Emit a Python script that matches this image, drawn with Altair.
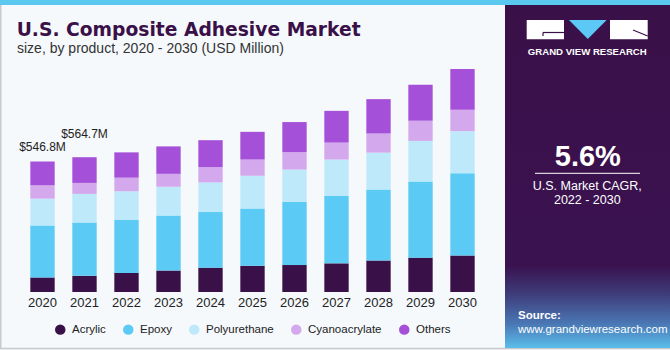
import altair as alt
import pandas as pd

years = [2020, 2021, 2022, 2023, 2024, 2025, 2026, 2027, 2028, 2029, 2030]
products = ["Acrylic", "Epoxy", "Polyurethane", "Cyanoacrylate", "Others"]
acrylic = [61, 68, 80, 90, 102, 110, 113, 120, 132, 144, 153]
epoxy = [218, 223, 222, 230, 233, 240, 265, 282, 297, 319, 345]
polyurethane = [112, 120, 120, 121, 124, 137, 135, 153, 155, 170, 176]
cyanoacrylate = [56, 46, 57, 54, 64, 68, 73, 71, 80, 84, 90]
others = [99.8, 107.7, 106, 115, 113, 116, 126, 133, 144, 151, 170]
colors = ["#3A1048", "#5BCBF5", "#BDE9FA", "#D4A8EC", "#A550D8"]
label_years = [2020, 2021]
label_texts = ["$546.8M", "$564.7M"]

series = [acrylic, epoxy, polyurethane, cyanoacrylate, others]
rows = []
for pi, (name, vals) in enumerate(zip(products, series)):
    for y, v in zip(years, vals):
        rows.append({"year": y, "product": name, "value": v, "ord": pi})
df = pd.DataFrame(rows)
totals = {y: sum(s[i] for s in series) for i, y in enumerate(years)}
lab = pd.DataFrame({"year": label_years, "text": label_texts,
                    "total": [totals[y] for y in label_years]})

L, T = 21.5, 60
W, H = 462, 232
def px(X):
    return X - L
def py(Y):
    return Y - T

one = pd.DataFrame({"k": [0]})
FONT = "Liberation Sans"
BG = "#F5F9FC"
PURPLE = "#3A1048"

def rect(x1, x2, y1, y2, **kw):
    return alt.Chart(one).mark_rect(**kw).encode(
        x=alt.value(px(x1)), x2=alt.value(px(x2)),
        y=alt.value(py(y1)), y2=alt.value(py(y2)))

def text(t, X, Y, font=FONT, **kw):
    return alt.Chart(one).mark_text(text=t, font=font, baseline="alphabetic", **kw).encode(
        x=alt.value(px(X)), y=alt.value(py(Y)))

def rule(x1, x2, y1, y2, **kw):
    return alt.Chart(one).mark_rule(**kw).encode(
        x=alt.value(px(x1)), x2=alt.value(px(x2)),
        y=alt.value(py(y1)), y2=alt.value(py(y2)))

frame = rect(0.75, 669.25, 1, 348.5, fill=BG, fillOpacity=0, stroke="#C9C9C9", strokeWidth=1.5)
stripe = rect(0, 670, 0, 5, fill="#5BC8F0")
panel = rect(505, 670, 5, 348, fill=alt.LinearGradient(
    gradient="linear", x1=0, y1=0, x2=0, y2=1,
    stops=[alt.GradientStop(color="#3A1048", offset=0),
           alt.GradientStop(color="#3A1250", offset=0.76),
           alt.GradientStop(color="#3E3A78", offset=0.84),
           alt.GradientStop(color="#4A78B5", offset=0.93),
           alt.GradientStop(color="#5BBDEB", offset=1)]))

logo_l = rect(526.7, 564, 20, 39.3, fill="white")
logo_r = rect(610, 647.7, 20, 39.3, fill="white")
logo_g1 = rule(543, 564, 32.5, 32.5, color=PURPLE, strokeWidth=1.2)
logo_g2 = rule(543, 543, 32.5, 36, color=PURPLE, strokeWidth=1.2)
logo_rd = rule(633, 647.7, 30, 36, color=PURPLE, strokeWidth=1.2)
tri = alt.Chart(one).mark_point(
    shape="M -1 -0.5 L 1 -0.5 L 0 0.5 Z", filled=True, fill="#5BC8F5",
    opacity=1, size=1421, strokeWidth=0).encode(
    x=alt.value(px(587.8)), y=alt.value(py(29.5)))
gvr = text("GRAND VIEW RESEARCH", 587.3, 55, align="center", fontSize=9.6,
           fontWeight="bold", color="white")

cagr = text("5.6%", 587.8, 165.7, align="center", fontSize=29, fontWeight="bold", color="white")
cagr_line = rule(535, 640, 173.3, 173.3, color="white", strokeWidth=1)
cagr1 = text("U.S. Market CAGR,", 587.3, 190.3, align="center", fontSize=12.5, color="white")
cagr2 = text("2022 - 2030", 587.3, 204.3, align="center", fontSize=12.5, color="white")
src1 = text("Source:", 518, 319.3, align="left", fontSize=11.5, fontWeight="bold", color="white")
src2 = text("www.grandviewresearch.com", 518, 332.7, align="left", fontSize=11.5, color="white")

title = text("U.S. Composite Adhesive Market", 16.7, 35.8, font="DejaVu Sans", align="left",
             fontSize=18.7, fontWeight="bold", color=PURPLE)
subtitle = text("size, by product, 2020 - 2030 (USD Million)", 17, 53, align="left",
                fontSize=14, color="#333333")

bars = alt.Chart(df).mark_bar().encode(
    x=alt.X("year:O", scale=alt.Scale(paddingInner=0.42, paddingOuter=0.21),
            axis=alt.Axis(title=None, labelAngle=0, domain=False, ticks=False,
                          labelFontSize=13, labelColor="#222222", labelFont=FONT,
                          labelPadding=4, zindex=2)),
    y=alt.Y("value:Q", stack="zero", scale=alt.Scale(domain=[0, 972], nice=False), axis=None),
    color=alt.Color("product:N", scale=alt.Scale(domain=products, range=colors),
                    legend=alt.Legend(orient="none", direction="horizontal",
                                      legendX=px(54.5), legendY=py(323.5), title=None,
                                      symbolType="circle", symbolSize=110,
                                      symbolStrokeWidth=0, labelFontSize=11.5,
                                      labelFont=FONT, labelColor="#222222",
                                      columnPadding=16, labelOffset=6, padding=0)),
    order=alt.Order("ord:Q"),
)

lab1 = alt.Chart(lab).transform_filter(alt.datum.year == label_years[0]).mark_text(
    font=FONT, fontSize=12, color="#222222", baseline="alphabetic", dy=-10).encode(
    x="year:O", y="total:Q", text="text:N")
lab2 = alt.Chart(lab).transform_filter(alt.datum.year == label_years[1]).mark_text(
    font=FONT, fontSize=12, color="#222222", baseline="alphabetic", dy=-19.6).encode(
    x="year:O", y="total:Q", text="text:N")

chart = alt.layer(
    frame, stripe, panel, bars, lab1, lab2,
    logo_l, logo_r, logo_g1, logo_g2, logo_rd, tri, gvr,
    cagr, cagr_line, cagr1, cagr2, src1, src2, title, subtitle,
).properties(
    width=W, height=H,
    autosize=alt.AutoSizeParams(type="none"),
    padding={"left": L, "top": T, "right": 670 - L - W, "bottom": 350 - T - H},
).configure(background=BG).configure_view(stroke=None)

chart.save("out.html", embed_options={"renderer": "svg", "actions": False})
